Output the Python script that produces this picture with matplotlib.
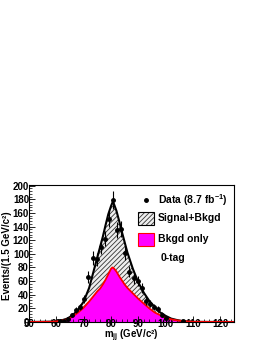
import matplotlib
matplotlib.use('Agg')
import matplotlib.pyplot as plt
from matplotlib.patches import Rectangle
import numpy as np

plt.rcParams['font.family'] = ['Liberation Sans', 'DejaVu Sans']
plt.rcParams['font.weight'] = 'bold'
plt.rcParams['mathtext.fontset'] = 'custom'
plt.rcParams['mathtext.rm'] = 'Liberation Sans:bold'
plt.rcParams['mathtext.it'] = 'Liberation Sans:bold'
plt.rcParams['mathtext.bf'] = 'Liberation Sans:bold'
plt.rcParams['hatch.color'] = '#333333'
plt.rcParams['hatch.linewidth'] = 0.6

# data points (1.5 GeV bins)
data_x = [61.25, 62.75, 64.25, 65.75, 67.25, 68.75, 70.25, 71.75, 73.25, 74.75,
          76.25, 77.75, 79.25, 80.75, 82.25, 83.75, 85.25, 86.75, 88.25, 89.75,
          91.25, 92.75, 94.25, 95.75, 97.25, 98.75, 100.25, 106.25]
data_y = [2, 1, 4, 10, 18, 22, 34, 66, 94, 92,
          110, 122, 151, 179, 135, 136, 101, 74, 64, 60,
          50, 31, 27, 22, 19, 11, 6, 1]

# fitted curves
curve_x = [50, 58, 60, 62, 64, 66, 68, 70, 72, 74, 75, 76, 77, 78, 79, 80, 80.5,
           81, 82, 83, 84, 85, 86, 88, 90, 92, 94, 96, 98, 100, 102, 104, 106,
           108, 110, 125]
total_y = [0, 0.5, 1, 2.5, 5, 10, 18, 30, 50, 80, 95, 110, 125, 142, 158, 170, 175,
           174, 163, 148, 132, 117, 102, 78, 58, 43, 31, 22, 14, 9, 5, 3, 1.5,
           0.5, 0.2, 0]
bkgd_y = [0, 0.3, 0.8, 2, 4, 8, 14, 21, 30, 40, 45, 49, 55, 62, 70, 78, 80,
          79, 74, 67, 61, 55, 50, 42, 34, 27, 20, 14, 10, 6, 4, 2.5, 1.5,
          0.8, 0.3, 0]

fig = plt.figure(figsize=(2.66, 3.44), dpi=100)
ax = fig.add_axes([29/266, 1-322/344, 205/266, 137/344])

ax.fill_between(curve_x, 0, total_y, facecolor='#eeeeee', hatch='///////',
                edgecolor='#333333', linewidth=0)
ax.plot(curve_x, total_y, color='black', lw=1.5)
ax.fill_between(curve_x, 0, bkgd_y, facecolor='#ff00ff', linewidth=0)
ax.plot(curve_x, bkgd_y, color='red', lw=1.3)

ax.errorbar(data_x, data_y, yerr=np.sqrt(data_y), fmt='o', color='black',
            ms=2.5, elinewidth=0.8, capsize=0)

ax.set_xlim(50, 125)
ax.set_ylim(0, 201)
ax.set_xticks(range(50, 121, 10))
ax.set_yticks(range(0, 201, 20))
ax.set_xticks(np.arange(50, 125, 2), minor=True)
ax.set_yticks(np.arange(0, 201, 4), minor=True)
ax.tick_params(direction='in', labelsize=7, length=4, width=0.6, pad=0,
               top=False, right=False)
ax.tick_params(axis='x', pad=-2)
ax.tick_params(which='minor', direction='in', length=2, width=0.5,
               top=False, right=False)
for s in ax.spines.values():
    s.set_linewidth(0.8)

fig.text(131/266, 1-338.5/344, r'm$_{\mathrm{jj}}$ (GeV/c²)',
         fontsize=7, ha='center', va='baseline')
fig.text(7/266, 1-256/344, 'Events/(1.5 GeV/c²)',
         fontsize=7, ha='center', va='center', rotation=90)

# legend drawn by hand
tr = ax.transAxes
ax.plot([0.571], [0.891], 'o', color='black', ms=2.5, transform=tr)
ax.text(0.629, 0.891, r'Data (8.7 fb$^{\mathrm{-1}}$)', transform=tr,
        fontsize=7.5, va='center', ha='left')
ax.add_patch(Rectangle((0.532, 0.71), 0.078, 0.094, transform=tr,
                       facecolor='#eeeeee', hatch='///////', edgecolor='#333333',
                       lw=0))
ax.add_patch(Rectangle((0.532, 0.71), 0.078, 0.094, transform=tr,
                       facecolor='none', edgecolor='black', lw=0.8))
ax.text(0.629, 0.757, 'Signal+Bkgd', transform=tr, fontsize=7.5,
        va='center', ha='left')
ax.add_patch(Rectangle((0.532, 0.558), 0.078, 0.094, transform=tr,
                       facecolor='#ff00ff', edgecolor='red', lw=0.8))
ax.text(0.629, 0.605, 'Bkgd only', transform=tr, fontsize=7.5,
        va='center', ha='left')
ax.text(0.644, 0.464, '0-tag', transform=tr, fontsize=7.5,
        va='center', ha='left')

fig.savefig('out.png', dpi=100)
